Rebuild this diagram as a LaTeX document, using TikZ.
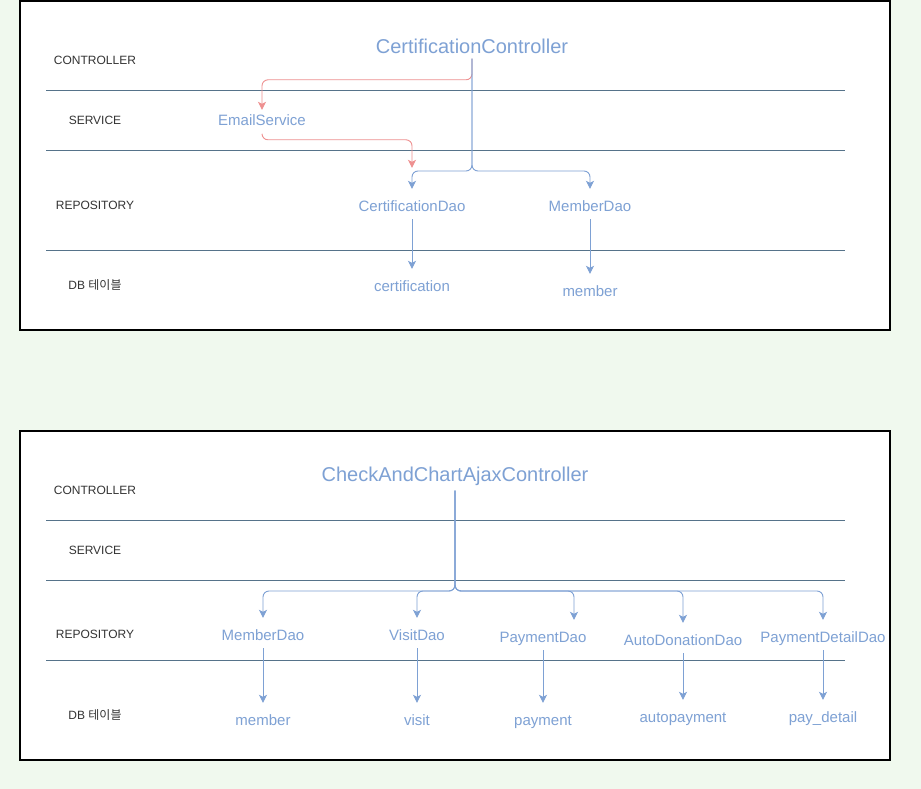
\documentclass[tikz,border=0pt]{standalone}
\usepackage{fontspec}
\setmainfont{Liberation Sans}
\newfontfamily\krfont{Noto Sans CJK KR}
\usetikzlibrary{arrows.meta,positioning}
\definecolor{bggreen}{HTML}{F0F9EE}
\definecolor{daoblue}{HTML}{7EA1D4}
\definecolor{laneline}{HTML}{56738A}
\definecolor{mailred}{HTML}{EE9090}
\definecolor{lanetext}{HTML}{333333}
\tikzset{
	layer/.style={font=\fontsize{12}{14}\selectfont,text=lanetext,yshift=-1pt},
	ctrl/.style={font=\fontsize{20}{24}\selectfont,text=daoblue,inner xsep=0pt,inner ysep=5pt},
	dao/.style={font=\fontsize{15}{18}\selectfont,text=daoblue,text height=11pt,text depth=3pt,inner xsep=0pt,inner ysep=5pt,yshift=-2pt},
	lane/.style={draw=laneline,line width=0.8pt},
	panel/.style={draw=black,line width=1.2pt,fill=white},
	call/.style={draw=daoblue,line width=0.9pt,rounded corners=6pt,shorten >=6pt,-{Stealth[length=8pt,width=8pt,inset=2pt]}},
	mail/.style={call,draw=mailred,shorten >=0pt}
}
\begin{document}
\begin{tikzpicture}[x=1pt,y=-1pt]
			\path[use as bounding box,fill=bggreen] (0,0) rectangle (921,789);
			
			\draw[panel] (20,1) rectangle (890,330);
			\draw[lane] (46,90) -- (845,90);
			\draw[lane] (46,150) -- (845,150);
			\draw[lane] (46,250) -- (845,250);
			\node[layer] (ctl1) at (95,59) {CONTROLLER};
			\node[layer] (svc1) at (95,119) {SERVICE};
			\node[layer] (repo1) at (95,204) {REPOSITORY};
			\node[layer] (db1) at (95,284) {DB {\krfont 테이블}};
			
			\node[ctrl] (cc) at (472,46) {CertificationController};
			\node[dao] (es) at (262,120) {EmailService};
			\node[dao] (cdao) at (412,205) {CertificationDao};
			\node[dao] (mdao1) at (590,205) {MemberDao};
			\node[dao] (ctab) at (412,285) {certification};
			\node[dao] (mtab1) at (590,290) {member};
			\coordinate (fork1) at (472,171);
			
			\draw[mail] (cc.south) |- ([yshift=30pt]es.north) -- (es.north);
			\draw[mail] (es.south) |- ([yshift=55pt]cdao.north) -- ([yshift=27pt]cdao.north);
			\draw[call] (cc.south) |- (fork1 -| cdao) -- (cdao.north);
			\draw[call] (cc.south) |- (fork1 -| mdao1) -- (mdao1.north);
			\draw[call] (cdao) -- (ctab);
			\draw[call] (mdao1) -- (mtab1);
			
			\draw[panel] (20,431) rectangle (890,760);
			\draw[lane] (46,520) -- (845,520);
			\draw[lane] (46,580) -- (845,580);
			\draw[lane] (46,660) -- (845,660);
			\node[layer] (ctl2) at (95,489) {CONTROLLER};
			\node[layer] (svc2) at (95,549) {SERVICE};
			\node[layer] (repo2) at (95,633) {REPOSITORY};
			\node[layer] (db2) at (95,714) {DB {\krfont 테이블}};
			
			\node[ctrl] (cacc) at (455,476) {CheckAndChartAjaxController};
			\node[dao] (mdao2) at (263,634) {MemberDao};
			\node[dao] (vdao) at (417,634) {VisitDao};
			\node[dao] (pdao) at (543,636) {PaymentDao};
			\node[dao] (adao) at (683,639) {AutoDonationDao};
			\node[dao] (pddao) at (823,636) {PaymentDetailDao};
			\node[dao] (mtab2) at (263,719) {member};
			\node[dao] (vtab) at (417,719) {visit};
			\node[dao] (ptab) at (543,719) {payment};
			\node[dao] (atab) at (683,716) {autopayment};
			\node[dao] (pdtab) at (823,716) {pay\_detail};
			\coordinate (fork2) at (455,591);
			\coordinate (pdaoin) at ([xshift=31pt]pdao.north);
			
			\draw[call] (cacc.south) |- (fork2 -| mdao2) -- (mdao2.north);
			\draw[call] (cacc.south) |- (fork2 -| vdao) -- (vdao.north);
			\draw[call] (cacc.south) |- (fork2 -| pdaoin) -- (pdaoin);
			\draw[call] (cacc.south) |- (fork2 -| adao) -- (adao.north);
			\draw[call] (cacc.south) |- (fork2 -| pddao) -- (pddao.north);
			\draw[call] (mdao2) -- (mtab2);
			\draw[call] (vdao) -- (vtab);
			\draw[call] (pdao) -- (ptab);
			\draw[call] (adao) -- (atab);
			\draw[call] (pddao) -- (pdtab);
		\end{tikzpicture}
\end{document}
